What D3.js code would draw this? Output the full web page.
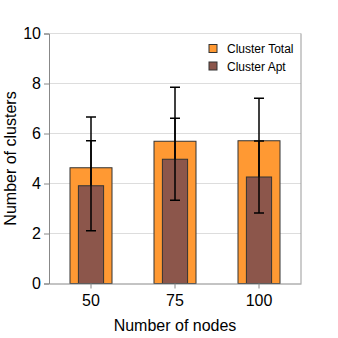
<!DOCTYPE html>
<html>
<head>
<meta charset="utf-8">
<script src="https://cdn.jsdelivr.net/npm/d3@7"></script>
<style>
  body { margin: 0; background: #fff; }
  text { font-family: "Liberation Sans", Arial, sans-serif; }
</style>
</head>
<body>
<script>
// Chart data
const nodeCounts = ['50', '75', '100'];
const clusterTotal = [4.63, 5.69, 5.71];
const clusterTotalErr = [2.03, 2.16, 1.70];
const clusterApt = [3.91, 4.97, 4.26];
const clusterAptErr = [1.80, 1.64, 1.44];
const yTicks = [0, 2, 4, 6, 8, 10];
const legendLabels = ['Cluster Total', 'Cluster Apt'];

const width = 338;
const height = 338;
const margin = { top: 33.5, right: 37, bottom: 54.5, left: 49 };
const colors = ['#ff9933', '#8c564b'];

const svg = d3.select('body').append('svg')
  .attr('width', width)
  .attr('height', height);

const x = d3.scaleBand()
  .domain(nodeCounts)
  .range([margin.left, width - margin.right]);

const y = d3.scaleLinear()
  .domain([0, 10])
  .range([height - margin.bottom, margin.top]);

// Gridlines
svg.append('g')
  .selectAll('line')
  .data(yTicks.slice(1))
  .enter().append('line')
  .attr('x1', margin.left)
  .attr('x2', width - margin.right)
  .attr('y1', d => y(d))
  .attr('y2', d => y(d))
  .attr('stroke', '#dddddd')
  .attr('stroke-width', 1);

// Right border
svg.append('line')
  .attr('x1', width - margin.right)
  .attr('x2', width - margin.right)
  .attr('y1', margin.top)
  .attr('y2', height - margin.bottom)
  .attr('stroke', '#999')
  .attr('stroke-width', 1);

const outerW = x.bandwidth() * 0.5;
const innerW = x.bandwidth() * 0.3;
const capW = 10;

function errorBars(vals, errs) {
  const g = svg.append('g')
    .attr('stroke', '#000')
    .attr('stroke-width', 1.5);
  nodeCounts.forEach((c, i) => {
    const cx = x(c) + x.bandwidth() / 2;
    const lo = y(vals[i] - errs[i]);
    const hi = y(vals[i] + errs[i]);
    g.append('line').attr('x1', cx).attr('x2', cx).attr('y1', lo).attr('y2', hi);
    g.append('line').attr('x1', cx - capW / 2).attr('x2', cx + capW / 2).attr('y1', lo).attr('y2', lo);
    g.append('line').attr('x1', cx - capW / 2).attr('x2', cx + capW / 2).attr('y1', hi).attr('y2', hi);
  });
}

// Cluster Total bars
svg.append('g')
  .selectAll('rect')
  .data(clusterTotal)
  .enter().append('rect')
  .attr('x', (d, i) => x(nodeCounts[i]) + (x.bandwidth() - outerW) / 2)
  .attr('width', outerW)
  .attr('y', d => y(d))
  .attr('height', d => y(0) - y(d))
  .attr('fill', colors[0])
  .attr('stroke', '#333')
  .attr('stroke-width', 1);

errorBars(clusterTotal, clusterTotalErr);

// Cluster Apt bars
svg.append('g')
  .selectAll('rect')
  .data(clusterApt)
  .enter().append('rect')
  .attr('x', (d, i) => x(nodeCounts[i]) + (x.bandwidth() - innerW) / 2)
  .attr('width', innerW)
  .attr('y', d => y(d))
  .attr('height', d => y(0) - y(d))
  .attr('fill', colors[1])
  .attr('stroke', '#333')
  .attr('stroke-width', 1);

errorBars(clusterApt, clusterAptErr);

// Axes
const yAxis = svg.append('g')
  .attr('transform', `translate(${margin.left},0)`)
  .call(d3.axisLeft(y).tickValues(yTicks).tickSize(5).tickPadding(3));

const xAxis = svg.append('g')
  .attr('transform', `translate(0,${height - margin.bottom})`)
  .call(d3.axisBottom(x).tickSize(5).tickPadding(6).tickSizeOuter(0));

[yAxis, xAxis].forEach(a => {
  a.select('.domain').attr('stroke', '#888');
  a.selectAll('.tick line').attr('stroke', '#888');
  a.selectAll('.tick text')
    .attr('fill', '#000')
    .style('font-size', '16px')
    .style('font-family', '"Liberation Sans", Arial, sans-serif');
});

// Axis titles
svg.append('text')
  .attr('x', margin.left + (width - margin.left - margin.right) / 2)
  .attr('y', 331)
  .attr('text-anchor', 'middle')
  .style('font-size', '16px')
  .text('Number of nodes');

svg.append('text')
  .attr('transform', `translate(16,${(margin.top + height - margin.bottom) / 2}) rotate(-90)`)
  .attr('text-anchor', 'middle')
  .style('font-size', '16px')
  .text('Number of clusters');

// Legend
const legend = svg.append('g')
  .selectAll('g')
  .data(legendLabels)
  .enter().append('g')
  .attr('transform', (d, i) => `translate(209,${44.5 + i * 17.5})`);

legend.append('rect')
  .attr('width', 8)
  .attr('height', 8)
  .attr('fill', (d, i) => colors[i])
  .attr('stroke', '#333')
  .attr('stroke-width', 1);

legend.append('text')
  .attr('x', 18)
  .attr('y', 8.5)
  .style('font-size', '12px')
  .text(d => d);
</script>
</body>
</html>
